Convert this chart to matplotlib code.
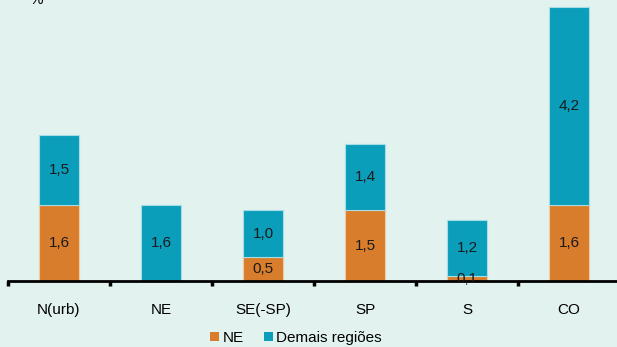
import matplotlib
matplotlib.use("Agg")
import matplotlib.pyplot as plt
from matplotlib.patches import Patch
import numpy as np

plt.rcParams['font.family'] = ['Liberation Sans', 'DejaVu Sans']

regions = ["N(urb)", "NE", "SE(-SP)", "SP", "S", "CO"]
ne_values = [1.6, 0.0, 0.5, 1.5, 0.1, 1.6]
other_values = [1.5, 1.6, 1.0, 1.4, 1.2, 4.2]
series_names = ["NE", "Demais regiões"]

bg = "#E2F2EE"
c_ne = "#D87D2C"
c_other = "#0A9EBB"
fs = 11

fig = plt.figure(figsize=(6.17, 3.47), dpi=100, facecolor=bg)
ax = fig.add_axes([8 / 617, 66 / 347, 612 / 617, 281 / 347], facecolor=bg)

x = np.arange(len(regions)) + 0.5
w = 0.4
ax.bar(x, ne_values, width=w, color=c_ne, edgecolor="#F3C9A0", linewidth=0.8, zorder=2)
ax.bar(x, other_values, width=w, bottom=ne_values, color=c_other,
       edgecolor="#A8DDE6", linewidth=0.8, zorder=2)

def fmt(v):
    return f"{v:.1f}".replace(".", ",")

for xi, a, b in zip(x, ne_values, other_values):
    if a > 0:
        ax.text(xi, a / 2, fmt(a), ha="center", va="center", fontsize=fs, color="#1a1a1a", zorder=4)
    if b > 0:
        ax.text(xi, a + b / 2, fmt(b), ha="center", va="center", fontsize=fs, color="#1a1a1a", zorder=4)

ax.set_xlim(0, len(regions))
ax.set_ylim(0, 281 / 47.2)

for s in ["top", "right", "left"]:
    ax.spines[s].set_visible(False)
ax.spines["bottom"].set_linewidth(2)
ax.spines["bottom"].set_zorder(3)
ax.set_yticks([])

ax.set_xticks(x)
ax.set_xticklabels(regions, fontsize=fs)
ax.tick_params(axis="x", which="major", length=0, pad=16)
ax.set_xticks(np.arange(len(regions) + 1), minor=True)
ax.tick_params(axis="x", which="minor", length=3.5, width=2.5, direction="out", color="black")

fig.text(36 / 617, 1.0, "%", ha="center", va="center", fontsize=fs)

handles = [Patch(facecolor=c_ne, edgecolor="none"), Patch(facecolor=c_other, edgecolor="none")]
fig.legend(handles, series_names, loc="center", bbox_to_anchor=(296 / 617, 9 / 347), ncol=2,
           frameon=False, fontsize=fs, handlelength=0.6, handleheight=0.6,
           handletextpad=0.2, columnspacing=1.35, borderpad=0)

fig.savefig("out.png", dpi=100, facecolor=bg)
